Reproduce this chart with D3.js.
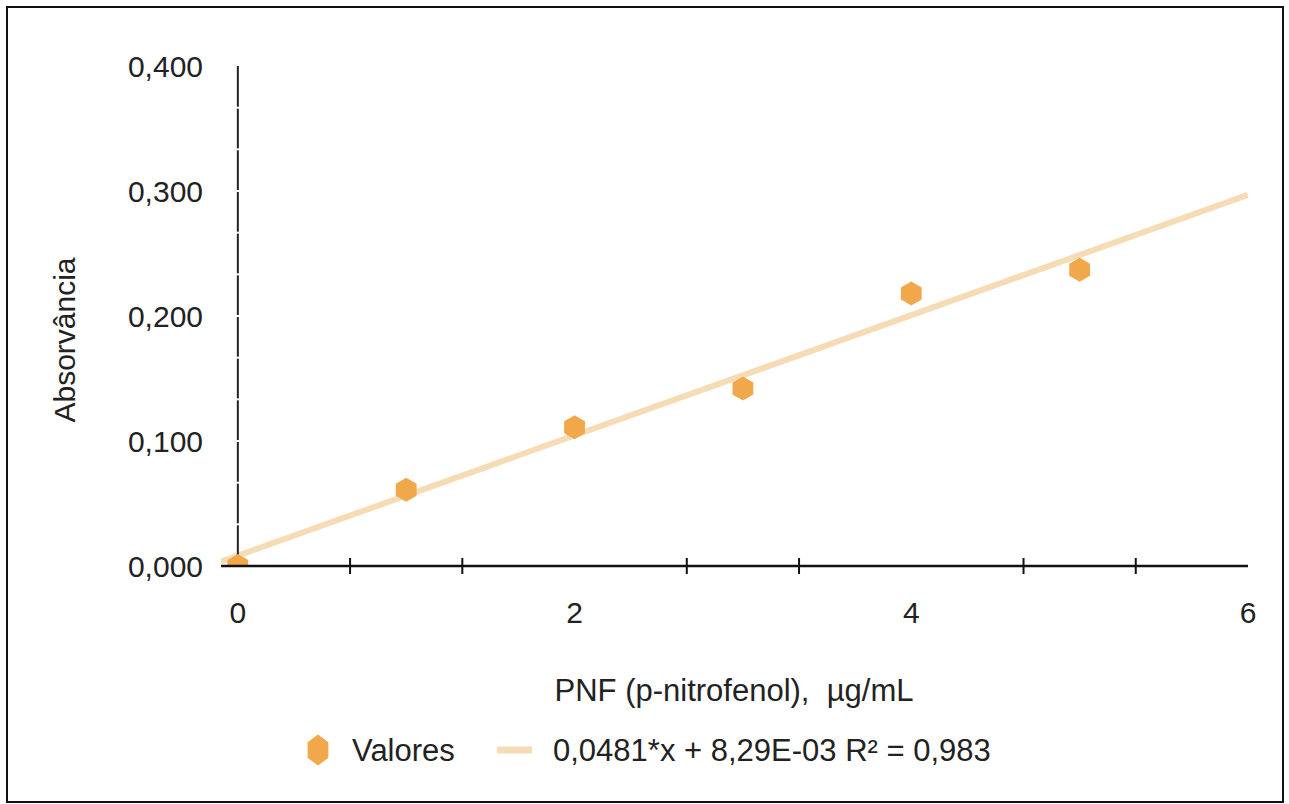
<!DOCTYPE html>
<html>
  <head>
    <meta charset="utf-8">
    <title>Curva PNF</title>
    <script src="https://cdn.jsdelivr.net/npm/d3@7"></script>
    <style type="text/css">
      body { margin: 0; background: #fff; }
      text { font-family: "Liberation Sans", Arial, sans-serif; fill: #222; font-size: 30px; }
    </style>
  </head>
  <body>
    <script type="text/javascript">

      // Data
      var concentracao = [0, 1, 2, 3, 4, 5];
      var absorvancia = [0.000, 0.061, 0.111, 0.142, 0.218, 0.237];
      var xTicks = [0, 2, 4, 6];
      var yTicks = [0, 0.1, 0.2, 0.3, 0.4];
      var slope = 0.0481, intercept = 0.00829;
      var legendLabels = ["Valores", "0,0481*x + 8,29E-03 R\u00b2 = 0,983"];

      var width = 1289, height = 804;
      var pLeft = 221, pRight = 1248, pTop = 66, pBottom = 566;

      var svg = d3.select("body").append("svg")
          .attr("width", width)
          .attr("height", height);

      // outer frame
      svg.append("rect")
          .attr("x", 7).attr("y", 7)
          .attr("width", 1276).attr("height", 795)
          .style("fill", "none")
          .style("stroke", "#111")
          .style("stroke-width", 2);

      var x = d3.scaleLinear().domain([-0.1, 6]).range([pLeft, pRight]);
      var y = d3.scaleLinear().domain([0, 0.4]).range([pBottom, pTop]);

      var comma = function(d) { return d3.format(".3f")(d).replace(".", ","); };

      // clip for plot area
      svg.append("clipPath").attr("id", "plot")
        .append("rect")
          .attr("x", pLeft).attr("y", pTop - 20)
          .attr("width", pRight - pLeft).attr("height", pBottom - pTop + 20);

      // y tick labels
      svg.append("g").selectAll("text")
          .data(yTicks).enter().append("text")
          .attr("x", 203)
          .attr("y", function(d) { return y(d); })
          .attr("dy", "0.35em")
          .attr("text-anchor", "end")
          .text(comma);

      // x tick labels
      svg.append("g").selectAll("text")
          .data(xTicks).enter().append("text")
          .attr("x", function(d) { return x(d); })
          .attr("y", 612)
          .attr("dy", "0.35em")
          .attr("text-anchor", "middle")
          .text(function(d) { return d; });

      // trendline
      var trend = [-0.1, 6].map(function(v) { return [v, slope * v + intercept]; });
      svg.append("line")
          .attr("clip-path", "url(#plot)")
          .attr("x1", x(trend[0][0])).attr("y1", y(trend[0][1]))
          .attr("x2", x(trend[1][0])).attr("y2", y(trend[1][1]))
          .style("stroke", "#f5dcb7")
          .style("stroke-width", 6);

      // y axis line (with small breaks at minor positions)
      svg.append("line")
          .attr("x1", x(0)).attr("x2", x(0))
          .attr("y1", y(0.4)).attr("y2", y(0))
          .style("stroke", "#222")
          .style("stroke-width", 2);
      var yMinor = d3.range(1, 12).map(function(i) { return i * 0.4 / 12; });
      svg.append("g").selectAll("line")
          .data(yMinor).enter().append("line")
          .attr("x1", x(0) - 2).attr("x2", x(0) + 2)
          .attr("y1", function(d) { return y(d); })
          .attr("y2", function(d) { return y(d); })
          .style("stroke", "#fff")
          .style("stroke-width", 2);

      // markers
      var hexPath = function(r) {
        var pts = d3.range(6).map(function(i) {
          var a = Math.PI / 3 * i - Math.PI / 2;
          return [r * Math.cos(a), r * Math.sin(a)];
        });
        return "M" + pts.join("L") + "Z";
      };
      svg.append("g").attr("clip-path", "url(#plot)")
        .selectAll("path")
          .data(concentracao).enter().append("path")
          .attr("transform", function(d, i) {
            return "translate(" + x(d) + "," + y(absorvancia[i]) + ")";
          })
          .attr("d", hexPath(12))
          .style("fill", "#f0a84a");

      // x axis line
      svg.append("line")
          .attr("x1", pLeft).attr("x2", pRight)
          .attr("y1", y(0)).attr("y2", y(0))
          .style("stroke", "#111")
          .style("stroke-width", 2.5);
      var xMinor = d3.range(1, 9).map(function(i) { return i * 2 / 3; })
          .filter(function(d) { return Math.abs(d - Math.round(d)) > 0.01; });
      svg.append("g").selectAll("line")
          .data(xMinor).enter().append("line")
          .attr("x1", function(d) { return x(d); })
          .attr("x2", function(d) { return x(d); })
          .attr("y1", y(0) - 8).attr("y2", y(0) + 8)
          .style("stroke", "#111")
          .style("stroke-width", 2);

      // axis titles
      svg.append("text")
          .attr("x", 734).attr("y", 690)
          .attr("dy", "0.35em")
          .attr("text-anchor", "middle")
          .style("font-size", "31px")
          .style("white-space", "pre")
          .text("PNF (p-nitrofenol),  \u00b5g/mL");

      svg.append("text")
          .attr("transform", "translate(64,340) rotate(-90)")
          .attr("dy", "0.35em")
          .attr("text-anchor", "middle")
          .text("Absorv\u00e2ncia");

      // legend
      svg.append("path")
          .attr("transform", "translate(318,750) scale(1,1.3)")
          .attr("d", hexPath(12))
          .style("fill", "#f0a84a");
      svg.append("text")
          .attr("x", 352).attr("y", 750)
          .attr("dy", "0.35em")
          .style("font-size", "31px")
          .text(legendLabels[0]);
      svg.append("line")
          .attr("x1", 497).attr("x2", 532)
          .attr("y1", 750).attr("y2", 750)
          .style("stroke", "#f5dcb7")
          .style("stroke-width", 7);
      svg.append("text")
          .attr("x", 553).attr("y", 750)
          .attr("dy", "0.35em")
          .style("font-size", "31px")
          .text(legendLabels[1]);

    </script>
  </body>
</html>
